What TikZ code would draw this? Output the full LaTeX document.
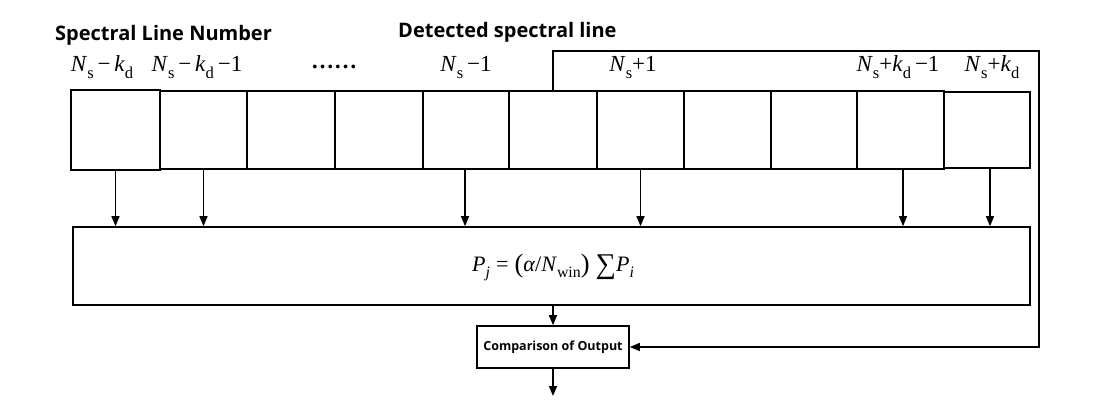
\documentclass[tikz,border=0pt]{standalone}
\usepackage{fontspec}
\usepackage{graphicx}
\setmainfont{Liberation Serif}
\newfontfamily\hdfont{Open Sans}
\usetikzlibrary{arrows.meta}
\newcommand\sbs[1]{\raisebox{-0.3em}{\scalebox{0.72}{#1}}}
\newcommand\Ns{\textit{N}\sbs{s}}
\newcommand\kd{\textit{k}\sbs{d}}
\begin{document}
\begin{tikzpicture}[x=1pt,y=-1pt,
  cellbox/.style={draw, line width=1.6pt, inner sep=0pt, minimum height=78pt},
  bigbox/.style={draw, line width=1.6pt, inner sep=0pt},
  lbl/.style={anchor=base, inner sep=0pt, font=\fontsize{23}{27}\selectfont},
  hdr/.style={anchor=base west, inner sep=0pt, font=\hdfont\bfseries\fontsize{20}{24}\selectfont},
  arr/.style={line width=1.5pt, -{Triangle[length=10pt,width=8pt]}}]
\useasboundingbox (0,0) rectangle (1105,414);
% headers
\node[hdr] (h1) at (55,41) {Spectral Line Number};
\node[hdr] (h2) at (398,38) {Detected spectral line};
% cells
\node[cellbox, minimum width=89pt, minimum height=80pt] (c1) at (115.5,130) {};
\node[cellbox, minimum width=87pt] (c2) at (203.5,130) {};
\node[cellbox, minimum width=88pt] (c3) at (291,130) {};
\node[cellbox, minimum width=88pt] (c4) at (379,130) {};
\node[cellbox, minimum width=86pt] (c5) at (466,130) {};
\node[cellbox, minimum width=88pt] (c6) at (553,130) {};
\node[cellbox, minimum width=87pt] (c7) at (640.5,130) {};
\node[cellbox, minimum width=87pt] (c8) at (727.5,130) {};
\node[cellbox, minimum width=86pt] (c9) at (814,130) {};
\node[cellbox, minimum width=87pt] (c10) at (900.5,130) {};
\node[cellbox, minimum width=86pt, minimum height=76pt] (c11) at (987,130) {};
% labels
\node[lbl] (l1) at (102,72) {\Ns\,−\,\kd};
\node[lbl] (l2) at (197,72) {\Ns\,−\,\kd\,−1};
\node[lbl] (l3) at (334,72) {\raisebox{0.17em}{\textbf{……}}};
\node[lbl] (l4) at (466,72) {\Ns\,−1};
\node[lbl] (l5) at (633,72) {\Ns+1};
\node[lbl] (l6) at (898,72) {\Ns+\kd\,−1};
\node[lbl] (l7) at (992,72) {\Ns+\kd};
% big box
\node[bigbox, minimum width=957pt, minimum height=78pt] (big) at (551.5,266) {};
\node[anchor=base, inner sep=0pt, font=\fontsize{22}{26}\selectfont] (f) at (553,271)
  {\textit{P}\sbs{\textit{j}}\;=\;\raisebox{-0.08em}{\scalebox{1.2}{(}}\textit{α}/\textit{N}\sbs{win}\raisebox{-0.08em}{\scalebox{1.2}{)}}\;\raisebox{-0.12em}{\scalebox{1.3}{∑}}\textit{P}\sbs{\textit{i}}};
% comparison box
\node[bigbox, minimum width=152pt, minimum height=42pt, font=\hdfont\bfseries\fontsize{12.5}{15}\selectfont] (comp) at (553,347) {Comparison of Output};
\coordinate (out) at (553,396);
\coordinate (fbtop) at (1039,51);
% arrows
\draw[arr] (c1.south) -- (c1.south |- big.north);
\draw[arr] (c2.south) -- (c2.south |- big.north);
\draw[arr] ([xshift=-1pt]c5.south) -- ([xshift=-1pt]c5.south |- big.north);
\draw[arr] (c7.south) -- (c7.south |- big.north);
\draw[arr] ([xshift=2.5pt]c10.south) -- ([xshift=2.5pt]c10.south |- big.north);
\draw[arr] ([xshift=3pt]c11.south) -- ([xshift=3pt]c11.south |- big.north);
\draw[arr] (comp.north |- big.south) -- (comp.north);
\draw[arr] (comp.south) -- (out);
\draw[arr] (c6.north) |- (fbtop) |- (comp.east);
\end{tikzpicture}
\end{document}
